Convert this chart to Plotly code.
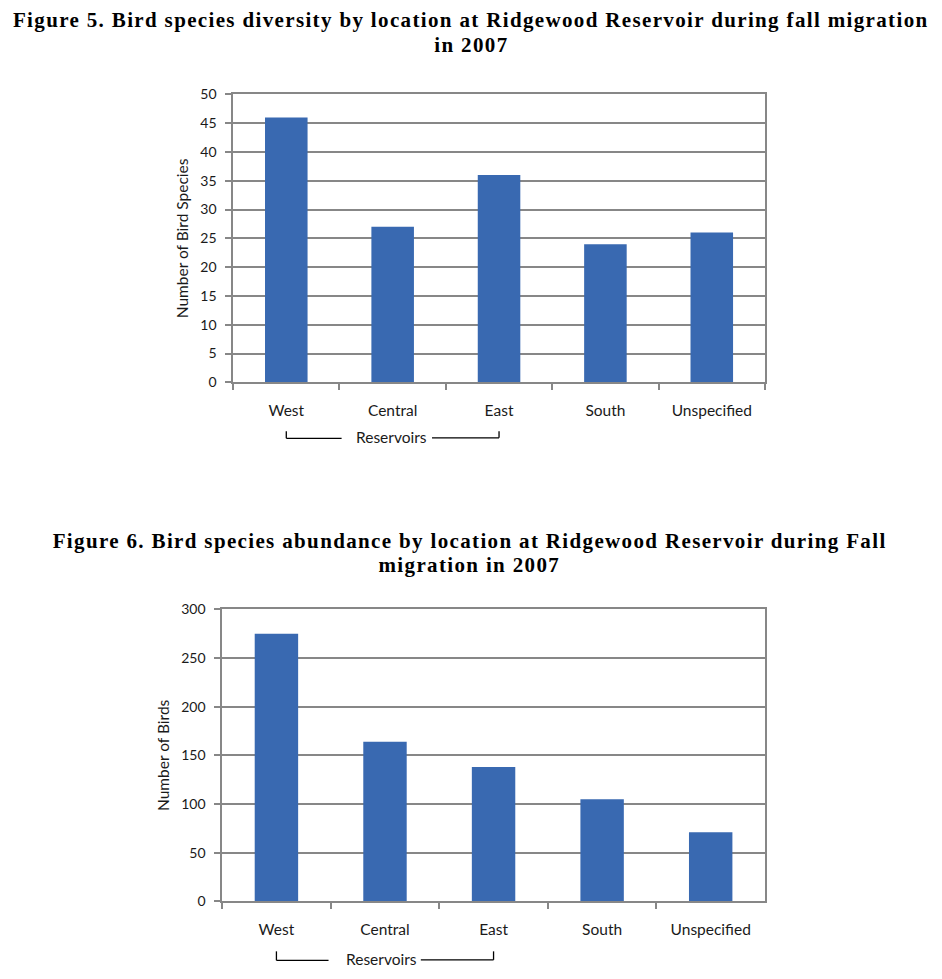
import plotly.graph_objects as go

categories = ["West", "Central", "East", "South", "Unspecified"]
species_counts = [46, 27, 36, 24, 26]
bird_counts = [275, 164, 138, 105, 71]
species_ticks = list(range(0, 51, 5))
bird_ticks = list(range(0, 301, 50))

title5_lines = ["Figure 5. Bird species diversity by location at Ridgewood Reservoir during fall migration",
                "in 2007"]
title6_lines = ["Figure 6. Bird species abundance by location at Ridgewood Reservoir during Fall",
                "migration in 2007"]

W, H = 942, 979
BAR = "#3969B1"
GRID = "#878787"
TXT = "#1a1a1a"
SANS = "Lato, Noto Sans, sans-serif"
TICKFONT = dict(family=SANS, size=14, color=TXT)
CATFONT = dict(family=SANS, size=15.5, color=TXT)


# convert reference-pixel positions into paper fractions (empirical render correction)
def px(p):
    return ((p - 5.0) / 1.004) / W


def py(p):
    return 1 - ((p - 16.6) / 0.9827) / H


fig = go.Figure()
fig.add_trace(go.Bar(x=categories, y=species_counts, marker=dict(color=BAR, line=dict(width=0)),
                     xaxis="x", yaxis="y", showlegend=False))
fig.add_trace(go.Bar(x=categories, y=bird_counts, marker=dict(color=BAR, line=dict(width=0)),
                     xaxis="x2", yaxis="y2", showlegend=False))

common_x = dict(type="category", showline=True, linecolor=GRID, linewidth=1.5, mirror=True,
                ticks="outside", tickson="boundaries", ticklen=6, tickcolor=GRID, tickwidth=1.5,
                showgrid=False, tickfont=CATFONT, ticklabelstandoff=13, fixedrange=True)
common_y = dict(showline=True, linecolor=GRID, linewidth=1.5, mirror=True, ticks="outside",
                ticklen=6, tickcolor=GRID, tickwidth=1.5, showgrid=True, gridcolor=GRID,
                gridwidth=1.5, zeroline=False, tickfont=TICKFONT, ticklabelstandoff=6)

fig.update_layout(
    width=W, height=H, margin=dict(l=0, r=0, t=0, b=0),
    paper_bgcolor="white", plot_bgcolor="white", bargap=0.6,
    xaxis=dict(domain=[px(231), px(765)], anchor="y", **common_x),
    yaxis=dict(domain=[py(382), py(94)], anchor="x", range=[0, 50], tickvals=species_ticks,
               title=dict(text="Number of Bird Species", standoff=8,
                          font=dict(family=SANS, size=15.5, color=TXT)),
               **common_y),
    xaxis2=dict(domain=[px(220), px(765)], anchor="y2", **common_x),
    yaxis2=dict(domain=[py(901), py(609)], anchor="x2", range=[0, 300], tickvals=bird_ticks,
                title=dict(text="Number of Birds", standoff=8,
                           font=dict(family=SANS, size=15.5, color=TXT)),
                **common_y),
)

title_font = dict(family="Liberation Serif, Times New Roman, serif", size=21, color="black", weight="bold")
for lines, xc, ys in [(title5_lines, 470, (20, 45)), (title6_lines, 468, (541, 565))]:
    for line, yc in zip(lines, ys):
        fig.add_annotation(text=line, x=px(xc), y=py(yc), xref="paper", yref="paper", xanchor="center",
                           yanchor="middle", showarrow=False, font=title_font, align="center")

# Reservoirs brackets
lab_font = dict(family=SANS, size=15.5, color=TXT)
for xr, ytop, ybot, lx, rx, tx in [("x", 431, 438, 0.52, 1.37, 0.99), ("x2", 951, 960, 0.48, 1.33, 0.97)]:
    fig.add_shape(type="line", xref=xr, yref="paper", x0=0, x1=0, y0=py(ytop), y1=py(ybot),
                  line=dict(color="black", width=1.3))
    fig.add_shape(type="line", xref=xr, yref="paper", x0=0, x1=lx, y0=py(ybot), y1=py(ybot),
                  line=dict(color="black", width=1.3))
    fig.add_shape(type="line", xref=xr, yref="paper", x0=rx, x1=2, y0=py(ybot - 0.5), y1=py(ybot - 0.5),
                  line=dict(color="black", width=1.3))
    fig.add_shape(type="line", xref=xr, yref="paper", x0=2, x1=2, y0=py(ytop), y1=py(ybot - 0.5),
                  line=dict(color="black", width=1.3))
    fig.add_annotation(text="Reservoirs", xref=xr, yref="paper", x=tx, y=py(ybot - 1), xanchor="center",
                       yanchor="middle", showarrow=False, font=lab_font)

post = """
var gd = document.getElementsByClassName('plotly-graph-div')[0];
function spaceTitles(){
  var t = gd.querySelectorAll('.annotation-text');
  t.forEach(function(el){
    var s = el.textContent;
    if (s.indexOf('Figure') === 0 || s === 'in 2007' || s === 'migration in 2007') {
      el.style.letterSpacing = '1.35px';
    }
  });
}
spaceTitles();
gd.on('plotly_afterplot', spaceTitles);
"""

fig.write_html("out.html", post_script=post)
